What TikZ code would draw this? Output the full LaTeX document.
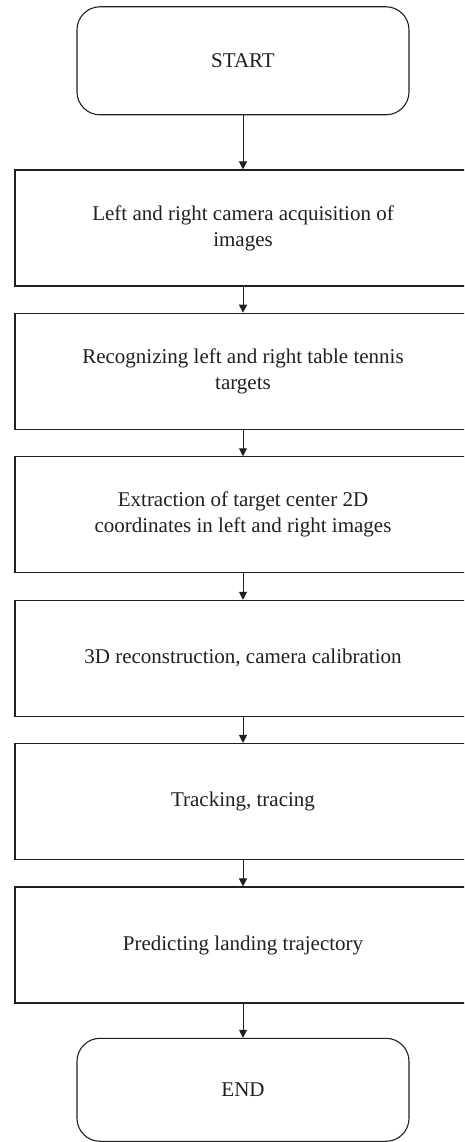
\documentclass[tikz,border=0pt]{standalone}
\usepackage{fontspec}
\setmainfont{Liberation Serif}
\usetikzlibrary{arrows.meta}
\definecolor{ink}{HTML}{231F20}
\tikzset{
  stepbox/.style={draw=ink, line width=1.1pt, minimum width=456pt, minimum height=116pt,
    align=center, text=ink, font=\fontsize{21}{26}\selectfont, inner sep=0pt},
  termbox/.style={draw=ink, line width=1.1pt, rounded corners=23pt, minimum width=332pt,
    minimum height=108pt, align=center, text=ink, font=\fontsize{21}{26}\selectfont, inner sep=0pt},
  flow/.style={draw=ink, line width=1pt, -{Triangle[width=8pt,length=8pt]}}
}
\begin{document}
\begin{tikzpicture}[x=1pt, y=-1pt]
\useasboundingbox (0,0) rectangle (464,1142);
\fill[white] (0,0) rectangle (464,1142);
\clip (0,0) rectangle (464,1142);
\node[termbox] (start) at (243,60.8) {START};
\node[stepbox] (b1) at (243,228) {Left and right camera acquisition of\\images};
\node[stepbox] (b2) at (243,371.2) {Recognizing left and right table tennis\\targets};
\node[stepbox] (b3) at (243,514.8) {Extraction of target center 2D\\coordinates in left and right images};
\node[stepbox] (b4) at (243,658.3) {3D reconstruction, camera calibration};
\node[stepbox] (b5) at (243,801.5) {Tracking, tracing};
\node[stepbox] (b6) at (243,945) {Predicting landing trajectory};
\node[termbox, minimum height=103pt] (end) at (243,1089.8) {END};
\draw[flow] (start) -- (b1);
\draw[flow] (b1) -- (b2);
\draw[flow] (b2) -- (b3);
\draw[flow] (b3) -- (b4);
\draw[flow] (b4) -- (b5);
\draw[flow] (b5) -- (b6);
\draw[flow] (b6) -- (end);
\end{tikzpicture}
\end{document}
